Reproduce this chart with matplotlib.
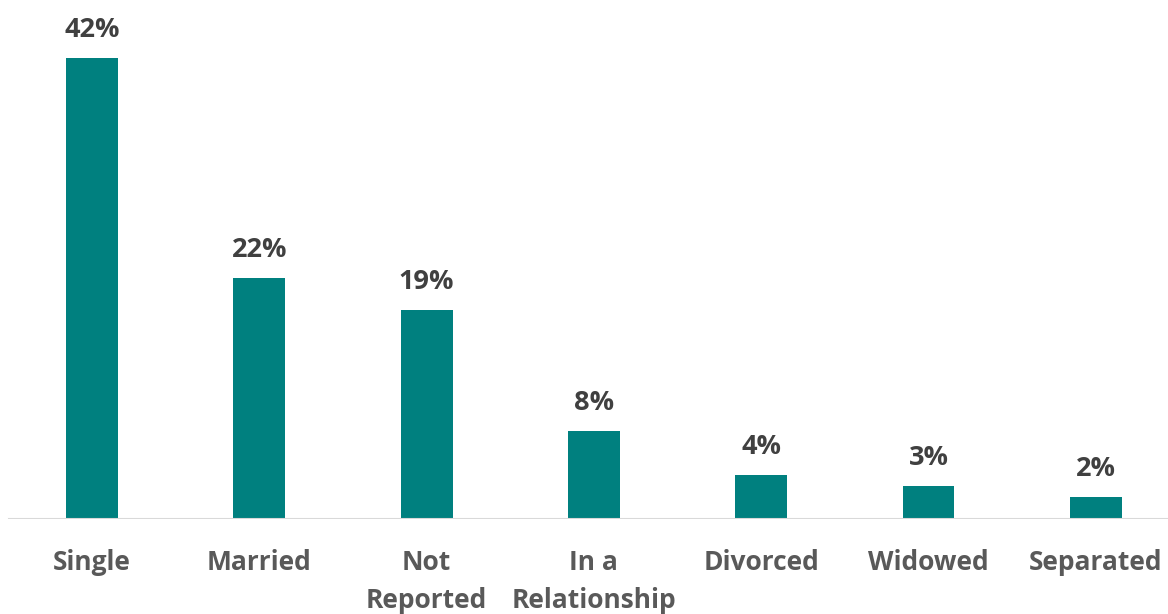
import matplotlib
matplotlib.use("Agg")
import matplotlib.pyplot as plt

categories = ["Single", "Married", "Not\nReported", "In a\nRelationship", "Divorced", "Widowed", "Separated"]
values = [42, 22, 19, 8, 4, 3, 2]
value_labels = ["42%", "22%", "19%", "8%", "4%", "3%", "2%"]

W, H = 1168, 614
fig = plt.figure(figsize=(W / 100, H / 100), dpi=100)
base_y = 519
ax = fig.add_axes([0, (H - base_y) / H, 1, base_y / H])

spacing = 167.3
first_c = 92
left = -(first_c / spacing)
ax.set_xlim(left, left + W / spacing)
px_per = (519 - 58) / 42.0
ax.set_ylim(0, base_y / px_per)

x = list(range(len(categories)))
ax.bar(x, values, width=52 / spacing, color="#00807F", zorder=2)

ax.axhline(0, xmin=9 / W, xmax=1, color="#D9D9D9", lw=1.5, zorder=3)

for s in ax.spines.values():
    s.set_visible(False)
ax.set_xticks([])
ax.set_yticks([])

font = "Open Sans"
for xi, v, lab in zip(x, values, value_labels):
    ax.annotate(lab, (xi, v), xytext=(0, 28), textcoords="offset pixels",
                ha="center", va="center", fontsize=19.5, fontweight="bold",
                color="#404040", family=font)

for xi, lab in zip(x, categories):
    ax.annotate(lab, (xi, 0), xycoords="data", xytext=(0, -30), textcoords="offset pixels",
                ha="center", va="top", fontsize=19, fontweight="bold",
                color="#595959", family=font, linespacing=1.5, annotation_clip=False)

fig.savefig("out.png", dpi=100)
